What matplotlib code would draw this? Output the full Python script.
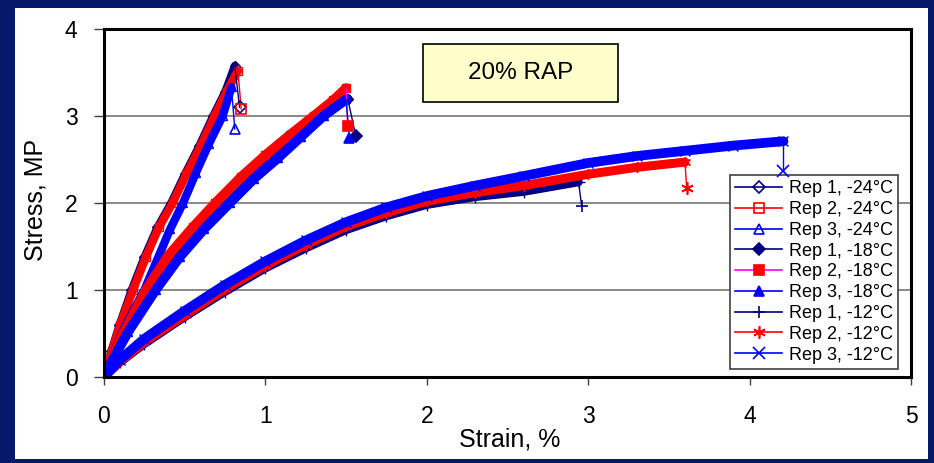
import matplotlib
matplotlib.use("Agg")
import matplotlib.pyplot as plt
from matplotlib.lines import Line2D
from matplotlib.patches import Rectangle

plt.rcParams['font.family'] = ['Liberation Sans', 'DejaVu Sans']

# ---------------- data ----------------
labels = ["Rep 1, -24°C", "Rep 2, -24°C", "Rep 3, -24°C",
          "Rep 1, -18°C", "Rep 2, -18°C", "Rep 3, -18°C",
          "Rep 1, -12°C", "Rep 2, -12°C", "Rep 3, -12°C"]

# last point of each series is the post-failure drop point
strain_24_1 = [0, 0.045, 0.095, 0.17, 0.25, 0.33, 0.415, 0.50, 0.59, 0.675, 0.75, 0.81, 0.84]
stress_24_1 = [0, 0.30, 0.60, 1.00, 1.38, 1.72, 2.00, 2.33, 2.66, 3.00, 3.28, 3.58, 3.10]
strain_24_2 = [0, 0.05, 0.10, 0.18, 0.26, 0.34, 0.425, 0.51, 0.60, 0.685, 0.76, 0.83, 0.85]
stress_24_2 = [0, 0.30, 0.60, 1.00, 1.38, 1.72, 2.00, 2.33, 2.66, 3.00, 3.28, 3.52, 3.08]
strain_24_3 = [0, 0.06, 0.13, 0.25, 0.33, 0.41, 0.49, 0.57, 0.65, 0.735, 0.79, 0.81]
stress_24_3 = [0, 0.28, 0.58, 1.00, 1.35, 1.70, 2.00, 2.35, 2.68, 3.00, 3.33, 2.85]

strain_18_1 = [0, 0.06, 0.15, 0.31, 0.46, 0.61, 0.77, 0.92, 1.07, 1.21, 1.35, 1.51, 1.56]
stress_18_1 = [0, 0.23, 0.53, 1.00, 1.38, 1.70, 2.00, 2.28, 2.53, 2.77, 3.00, 3.20, 2.77]
strain_18_2 = [0, 0.05, 0.12, 0.26, 0.40, 0.55, 0.69, 0.85, 1.00, 1.15, 1.30, 1.42, 1.50, 1.51]
stress_18_2 = [0, 0.22, 0.50, 1.00, 1.40, 1.72, 2.00, 2.30, 2.55, 2.78, 3.00, 3.18, 3.32, 2.88]
strain_18_3 = [0, 0.06, 0.15, 0.32, 0.47, 0.62, 0.78, 0.93, 1.08, 1.22, 1.36, 1.50, 1.52]
stress_18_3 = [0, 0.22, 0.52, 1.00, 1.38, 1.70, 2.00, 2.28, 2.52, 2.76, 3.00, 3.19, 2.75]

strain_12_1 = [0, 0.10, 0.25, 0.50, 0.75, 1.00, 1.25, 1.50, 1.75, 2.00, 2.30, 2.60, 2.94, 2.96]
stress_12_1 = [0, 0.17, 0.38, 0.69, 0.98, 1.25, 1.48, 1.69, 1.85, 1.98, 2.07, 2.13, 2.24, 1.96]
strain_12_2 = [0, 0.10, 0.25, 0.50, 0.75, 1.00, 1.25, 1.50, 1.75, 2.00, 2.30, 2.60, 3.00, 3.30, 3.60, 3.61]
stress_12_2 = [0, 0.18, 0.40, 0.71, 1.01, 1.28, 1.52, 1.73, 1.89, 2.02, 2.12, 2.20, 2.33, 2.41, 2.47, 2.17]
strain_12_3 = [0, 0.10, 0.25, 0.50, 0.75, 1.00, 1.25, 1.50, 1.75, 2.00, 2.30, 2.60, 3.00, 3.30, 3.60, 3.90, 4.21, 4.21]
stress_12_3 = [0, 0.20, 0.44, 0.76, 1.06, 1.33, 1.57, 1.78, 1.95, 2.08, 2.20, 2.31, 2.46, 2.54, 2.60, 2.66, 2.71, 2.37]

strains = [strain_24_1, strain_24_2, strain_24_3, strain_18_1, strain_18_2, strain_18_3,
           strain_12_1, strain_12_2, strain_12_3]
stresses = [stress_24_1, stress_24_2, stress_24_3, stress_18_1, stress_18_2, stress_18_3,
            stress_12_1, stress_12_2, stress_12_3]

x_ticks = [0, 1, 2, 3, 4, 5]
y_ticks = [0, 1, 2, 3, 4]
title_text = "20% RAP"

# ---------------- styles ----------------
NAVY, RED, BLUE, MAG = "#000080", "#FF0000", "#0000FF", "#FF00FF"
colors = [NAVY, RED, BLUE, NAVY, RED, BLUE, NAVY, RED, BLUE]
line_colors = [NAVY, RED, BLUE, NAVY, MAG, BLUE, NAVY, RED, BLUE]
markers = ['D', 's', '^', 'D', 's', '^', '+', (6, 2, 0), 'x']
filled = [False, False, False, True, True, True, True, True, True]
msizes = [6, 7, 7, 6, 7, 7, 9, 9, 8]
band_w = [5.5, 6, 6, 6.5, 7, 7, 6, 6.5, 7]

fig = plt.figure(figsize=(9.34, 4.63), dpi=100)
fig.patch.set_facecolor("#05196b")
fig.patches.append(Rectangle((15 / 934, 4 / 463), 913 / 934, 451 / 463,
                             transform=fig.transFigure, facecolor="white",
                             edgecolor="none", zorder=-10))

ax = fig.add_axes([104 / 934, 86 / 463, 807 / 934, 348 / 463])
ax.set_facecolor("white")
ax.set_zorder(1)

for i in range(9):
    xs, ys = strains[i], stresses[i]
    c, lc, m = colors[i], line_colors[i], markers[i]
    mfc = c if filled[i] else "none"
    # dense band of data
    ax.plot(xs[:-1], ys[:-1], color=c, lw=band_w[i], solid_capstyle="round",
            solid_joinstyle="round", zorder=3 + i * 0.1)
    ax.plot(xs[:-1], ys[:-1], linestyle="none", marker=m, ms=msizes[i] - 1,
            mfc=mfc, mec=c, mew=1.0, zorder=3.05 + i * 0.1)
    # drop segment after failure
    ax.plot(xs[-2:], ys[-2:], color=lc, lw=1, zorder=4)
    ax.plot(xs[-1:], ys[-1:], linestyle="none", marker=m, ms=msizes[i],
            mfc="none" if not filled[i] else c, mec=c, mew=1.2, zorder=8)

ax.set_xlim(0, 5)
ax.set_ylim(0, 4)
ax.set_xticks(x_ticks)
ax.set_yticks(y_ticks)
ax.set_xticklabels([str(t) for t in x_ticks])
ax.set_yticklabels([str(t) for t in y_ticks])
ax.tick_params(axis="x", direction="out", length=6, width=1, color="#404040",
               labelsize=16.5, pad=14)
ax.tick_params(axis="y", direction="out", length=7, width=1, color="#404040",
               labelsize=16.5, pad=12)
for s in ax.spines.values():
    s.set_linewidth(2.2)
    s.set_color("black")
    s.set_zorder(6)

for yv in y_ticks[1:-1]:
    ax.axhline(yv, color="#808080", lw=1.3, zorder=1)

# title box
ax.add_patch(Rectangle((0.395, 0.790), 0.242, 0.167, transform=ax.transAxes,
                       facecolor="#FFFFCC", edgecolor="black", lw=1.2, zorder=2))
ax.text(0.516, 0.873, title_text, transform=ax.transAxes, ha="center",
        va="center", fontsize=17.5, zorder=2.5)

fig.text(35 / 934, 1 - 200 / 463, "Stress, MP", rotation=90, ha="center",
         va="center", fontsize=18)
fig.text(510 / 934, 1 - 440 / 463, "Strain, %", ha="center", va="center",
         fontsize=18)

handles = []
for i in range(9):
    handles.append(Line2D([0], [0], color=line_colors[i], lw=1.2, marker=markers[i],
                          ms=msizes[i], mfc=(colors[i] if filled[i] else "none"),
                          mec=colors[i], mew=1.2))
leg = ax.legend(handles, labels, loc="lower right", bbox_to_anchor=(0.984, 0.023),
                borderaxespad=0, fontsize=13, labelspacing=0.21, handlelength=2.6,
                handletextpad=0.35, borderpad=0.3, fancybox=False, framealpha=1,
                edgecolor="#404040", numpoints=1)
leg.get_frame().set_linewidth(1.2)
leg.set_zorder(7)

fig.savefig("out.png", dpi=100, facecolor=fig.get_facecolor())
